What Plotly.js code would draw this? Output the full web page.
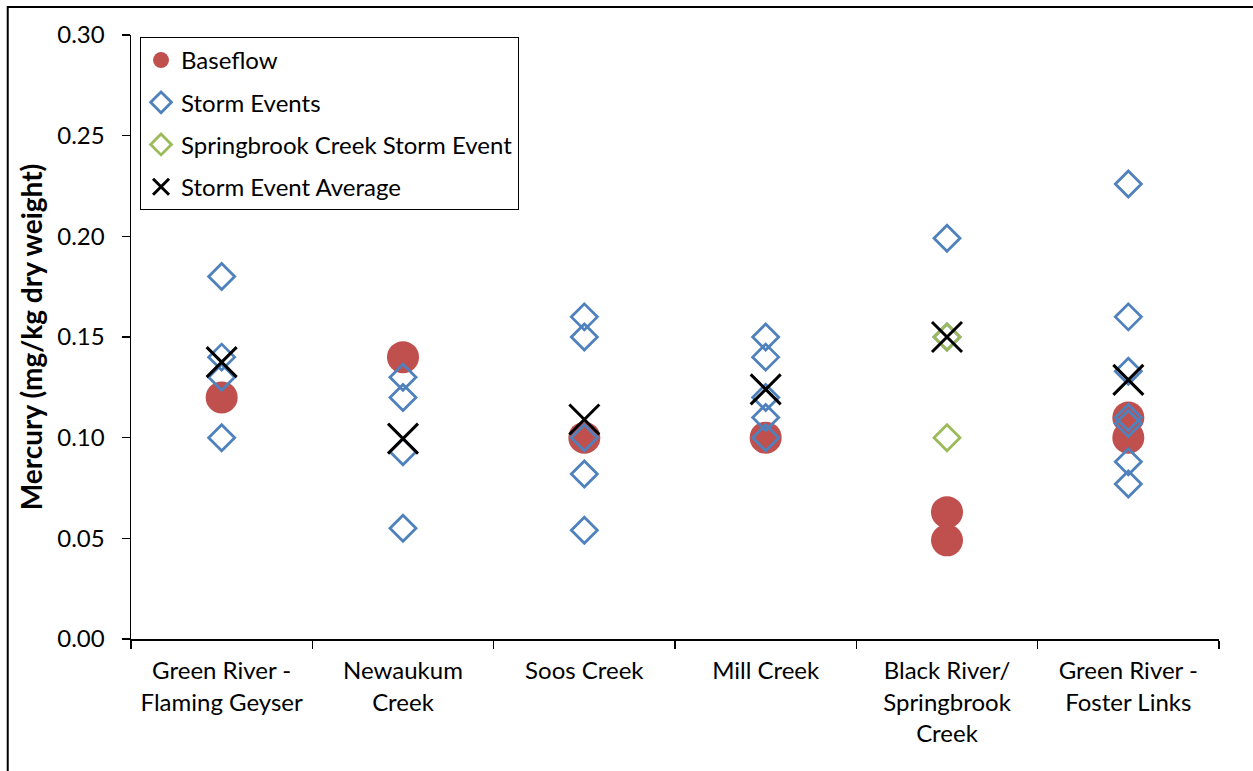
<!DOCTYPE html>
<html>
<head>
<meta charset="utf-8">
<script src="https://cdn.plot.ly/plotly-3.0.1.min.js"></script>
<style>
  html, body { margin: 0; padding: 0; background: #fff; }
  #chart { width: 1253px; height: 771px; }
</style>
</head>
<body>
<div id="chart"></div>
<script>
// Sampling sites along the Green River system (tick labels)
const sites = [
  'Green River -<br>Flaming Geyser',
  'Newaukum<br>Creek',
  'Soos Creek',
  'Mill Creek',
  'Black River/<br>Springbrook<br>Creek',
  'Green River -<br>Foster Links'
];

// Mercury in sediment, mg/kg dry weight, one list per site
const baseflow = [
  [0.12],
  [0.14],
  [0.10],
  [0.10],
  [0.063, 0.049],
  [0.11, 0.10]
];

const stormEvents = [
  [0.18, 0.14, 0.13, 0.10],
  [0.13, 0.12, 0.093, 0.055],
  [0.16, 0.15, 0.10, 0.082, 0.054],
  [0.15, 0.14, 0.12, 0.11, 0.10],
  [0.199, 0.15],
  [0.226, 0.16, 0.133, 0.11, 0.107, 0.088, 0.077]
];

const springbrookStorm = [
  [],
  [],
  [],
  [],
  [0.15, 0.10],
  []
];

const stormAverage = [0.1375, 0.0995, 0.109, 0.124, 0.15, 0.1287];

// Flatten a per-site list into x (site) / y (value) arrays
function flatten(groups) {
  const x = [], y = [];
  groups.forEach((vals, i) => vals.forEach(v => { x.push(sites[i]); y.push(v); }));
  return { x, y };
}

const FONT = 'Lato, "Open Sans", sans-serif';
const base = flatten(baseflow);
const storm = flatten(stormEvents);
const spring = flatten(springbrookStorm);

const traces = [
  {
    name: 'Baseflow', type: 'scatter', mode: 'markers',
    x: base.x, y: base.y, legendgroup: 'a',
    marker: { symbol: 'circle', size: 32, color: '#C0504D' }
  },
  {
    name: 'Storm Events', type: 'scatter', mode: 'markers',
    x: storm.x, y: storm.y, legendgroup: 'b',
    marker: { symbol: 'diamond-open', size: 20, color: '#4F81BD', line: { width: 2.8, color: '#4F81BD' } }
  },
  {
    name: 'Springbrook Creek Storm Event', type: 'scatter', mode: 'markers',
    x: spring.x, y: spring.y, legendgroup: 'c',
    marker: { symbol: 'diamond-open', size: 20, color: '#9BBB59', line: { width: 2.8, color: '#9BBB59' } }
  },
  {
    name: 'Storm Event Average', type: 'scatter', mode: 'markers',
    x: sites, y: stormAverage, legendgroup: 'd',
    marker: { symbol: 'x-thin-open', size: 30, color: '#000', line: { width: 3, color: '#000' } }
  }
];

const layout = {
  width: 1253, height: 771,
  margin: { l: 131, r: 34, t: 35, b: 132, pad: 0 },
  paper_bgcolor: '#fff', plot_bgcolor: '#fff',
  font: { family: FONT, size: 24, color: '#000' },
  showlegend: true,
  legend: {
    x: 0.0083, y: 0.9967, xanchor: 'left', yanchor: 'top',
    bordercolor: '#000', borderwidth: 1, bgcolor: '#fff',
    font: { family: FONT, size: 24, color: '#000' },
    traceorder: 'grouped', tracegroupgap: 8,
    itemsizing: 'trace'
  },
  xaxis: {
    type: 'category',
    categoryorder: 'array', categoryarray: sites,
    range: [-0.5, 5.5],
    showline: true, linecolor: '#000', linewidth: 1.5,
    ticks: 'outside', tickson: 'boundaries', ticklen: 8, tickcolor: '#000', tickwidth: 1.5,
    ticklabelstandoff: 10,
    showgrid: false, zeroline: false,
    tickfont: { family: FONT, size: 24, color: '#000' },
    fixedrange: true
  },
  yaxis: {
    range: [0, 0.30], dtick: 0.05, tick0: 0, tickformat: '.2f',
    showline: true, linecolor: '#000', linewidth: 1.5,
    ticks: 'outside', ticklen: 8, tickcolor: '#000', tickwidth: 1.5,
    ticklabelstandoff: 12,
    showgrid: false, zeroline: false,
    tickfont: { family: FONT, size: 24, color: '#000' },
    title: {
      text: '<b>Mercury (mg/kg dry weight)</b>',
      font: { family: FONT, size: 28, color: '#000' },
      standoff: 6
    },
    automargin: false,
    fixedrange: true
  },
  shapes: [
    {
      type: 'rect', xref: 'paper', yref: 'paper',
      x0: -0.1133, x1: 1.2, y0: -0.4, y1: 1.0464,
      line: { color: '#000', width: 2 }, fillcolor: 'rgba(0,0,0,0)', layer: 'above'
    }
  ]
};

Plotly.newPlot('chart', traces, layout, { displayModeBar: false, staticPlot: true });
</script>
</body>
</html>
